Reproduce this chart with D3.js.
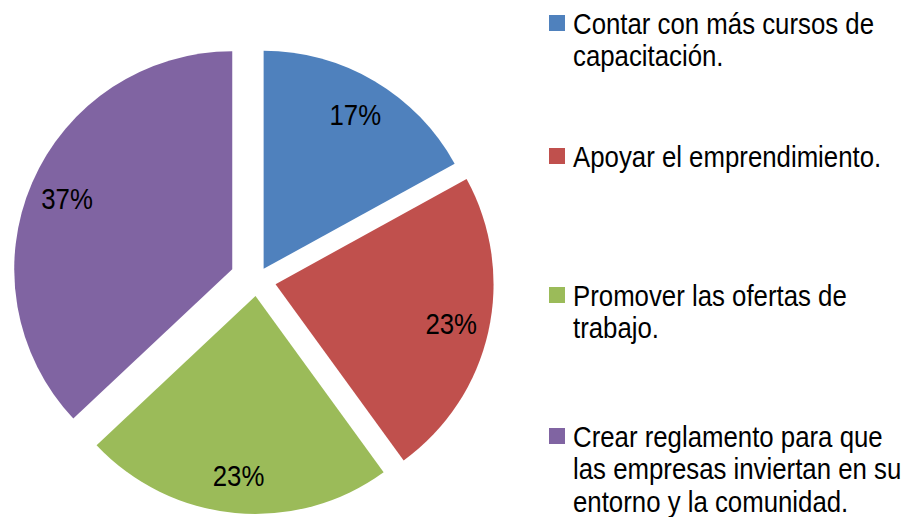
<!DOCTYPE html>
<html>
<head>
<meta charset="utf-8">
<script src="https://cdn.jsdelivr.net/npm/d3@7"></script>
<style>
  body { margin: 0; background: #fff; }
  text { font-family: "Liberation Sans", Arial, sans-serif; fill: #000; }
</style>
</head>
<body>
<div id="chart"></div>
<script>
  // data
  const categories = [
    ["Contar con más cursos de", "capacitación."],
    ["Apoyar el emprendimiento."],
    ["Promover las ofertas de", "trabajo."],
    ["Crear reglamento para que", "las empresas inviertan en su", "entorno y la comunidad."]
  ];
  const values = [17, 23, 23, 37];
  const colors = ["#4F81BD", "#C0504D", "#9BBB59", "#8064A2"];

  // layout
  const width = 909, height = 517;
  const cx = 257, cy = 280, radius = 218;
  const explode = [13, 19, 16, 27];
  const labelRadius = 180;
  const fontSize = 30, squeeze = 0.86, lineH = 32.5;
  const legendX = 549, legendRowY = [34, 167, 306, 447];

  const svg = d3.select("#chart")
    .append("svg")
    .attr("width", width)
    .attr("height", height);

  const total = d3.sum(values);

  const pie = d3.pie().sort(null).value(d => d);
  const arc = d3.arc().innerRadius(0).outerRadius(radius);

  const arcs = pie(values);

  const slices = svg.append("g")
    .attr("transform", `translate(${cx},${cy})`)
    .selectAll("g")
    .data(arcs)
    .enter()
    .append("g")
    .attr("transform", (d, i) => {
      const a = (d.startAngle + d.endAngle) / 2;
      return `translate(${Math.sin(a) * explode[i]},${-Math.cos(a) * explode[i]})`;
    });

  slices.append("path")
    .attr("d", arc)
    .attr("fill", (d, i) => colors[i]);

  slices.append("g")
    .attr("transform", d => {
      const a = (d.startAngle + d.endAngle) / 2;
      const x = Math.sin(a) * labelRadius;
      const y = -Math.cos(a) * labelRadius;
      return `translate(${x},${y + fontSize * 0.36}) scale(${squeeze},1)`;
    })
    .append("text")
    .attr("text-anchor", "middle")
    .style("font-size", fontSize + "px")
    .text(d => Math.round(d.value / total * 100) + "%");

  // legend
  const legend = svg.append("g")
    .selectAll("g")
    .data(categories)
    .enter()
    .append("g")
    .attr("transform", (d, i) => `translate(${legendX},${legendRowY[i]})`);

  legend.append("rect")
    .attr("x", 0)
    .attr("y", -19)
    .attr("width", 16)
    .attr("height", 16)
    .attr("fill", (d, i) => colors[i]);

  legend.append("g")
    .attr("transform", `translate(24,0) scale(${squeeze},1)`)
    .append("text")
    .style("font-size", fontSize + "px")
    .selectAll("tspan")
    .data(d => d)
    .enter()
    .append("tspan")
    .attr("x", 0)
    .attr("y", (d, j) => j * lineH)
    .text(d => d);
</script>
</body>
</html>
